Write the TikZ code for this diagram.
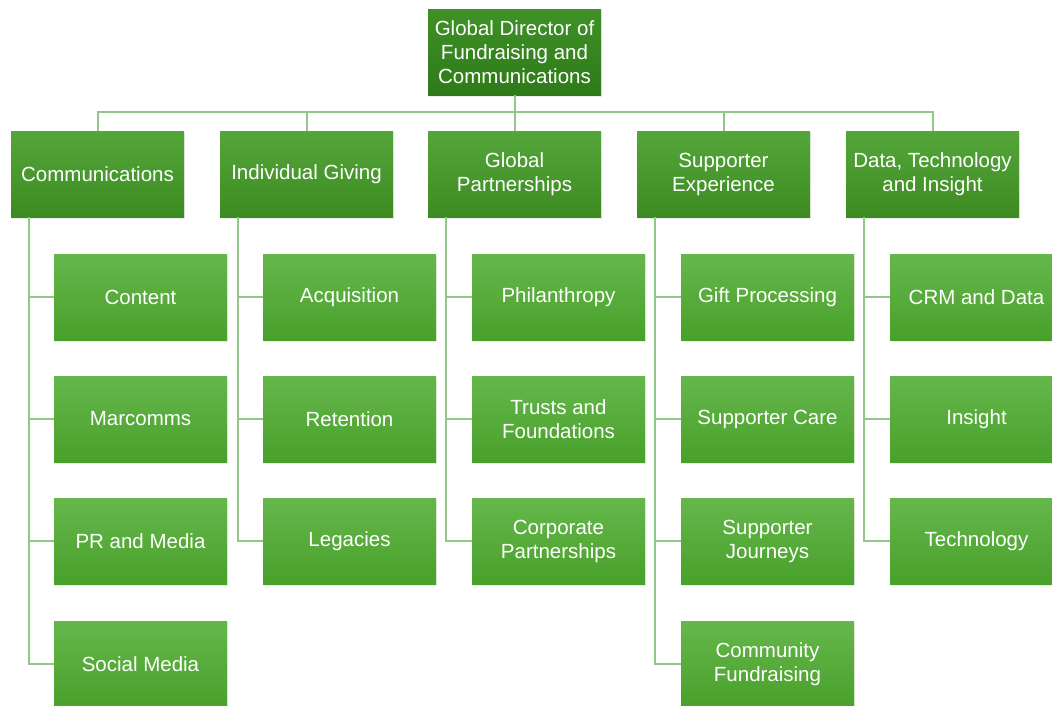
\documentclass[tikz,border=0pt]{standalone}
\usepackage{fontspec}
\setmainfont{Liberation Sans}
\usepackage{xcolor}
\usepackage{tikz}
\usetikzlibrary{positioning,shadows}

\definecolor{headtop}{HTML}{3F9127}
\definecolor{headbot}{HTML}{2E7A19}
\definecolor{deptop}{HTML}{55A63A}
\definecolor{depbot}{HTML}{3B8B21}
\definecolor{teamtop}{HTML}{65B74B}
\definecolor{teambot}{HTML}{49A02B}
\definecolor{linkgreen}{HTML}{93C68A}

\begin{document}
\begin{tikzpicture}[x=1pt,y=1pt,
  box/.style={draw=none, rectangle, minimum width=173pt, minimum height=86pt, inner sep=2pt,
    text=white, align=center, font=\fontsize{20.5}{24}\selectfont,
    drop shadow={shadow xshift=1pt, shadow yshift=-1.5pt, opacity=0.15, fill=black!50}},
  head/.style={box, top color=headtop, bottom color=headbot},
  dept/.style={box, top color=deptop, bottom color=depbot},
  team/.style={box, top color=teamtop, bottom color=teambot},
  link/.style={draw=linkgreen, line width=2pt}]
  \useasboundingbox (0,0) rectangle (1052,-705);

  \coordinate (bus) at (514.5,-112);

  \node[head] (top) at (514.5,-52) {Global Director of\\Fundraising and\\Communications};

  % departments
  \node[dept] (comm)   at (97.5,-174)  {Communications};
  \node[dept] (indiv)  at (306.5,-174) {Individual Giving};
  \node[dept] (global) at (514.5,-174) {Global\\Partnerships};
  \node[dept] (supp)   at (723.5,-174) {Supporter\\Experience};
  \node[dept] (data)   at (932.5,-174) {Data, Technology\\and Insight};

  % teams
  \node[team] (content)   at (140.5,-297) {Content};
  \node[team] (marcomms)  at (140.5,-419) {Marcomms};
  \node[team] (pr)        at (140.5,-541) {PR and Media};
  \node[team] (social)    at (140.5,-664) {Social Media};

  \node[team] (acq)       at (349.5,-297) {Acquisition};
  \node[team] (ret)       at (349.5,-419) {Retention};
  \node[team] (leg)       at (349.5,-541) {Legacies};

  \node[team] (phil)      at (558.5,-297) {Philanthropy};
  \node[team] (trusts)    at (558.5,-419) {Trusts and\\Foundations};
  \node[team] (corp)      at (558.5,-541) {Corporate\\Partnerships};

  \node[team] (gift)      at (767.5,-297) {Gift Processing};
  \node[team] (care)      at (767.5,-419) {Supporter Care};
  \node[team] (journeys)  at (767.5,-541) {Supporter\\Journeys};
  \node[team] (community) at (767.5,-664) {Community\\Fundraising};

  \node[team] (crm)       at (976.5,-297) {CRM and Data};
  \node[team] (insight)   at (976.5,-419) {Insight};
  \node[team] (tech)      at (976.5,-541) {Technology};

  \draw[link] (top.south) -- (bus);
  \draw[link] (comm.north) |- (bus);
  \draw[link] (indiv.north) |- (bus);
  \draw[link] (global.north) -- (bus);
  \draw[link] (supp.north) |- (bus);
  \draw[link] (data.north) |- (bus);

  \draw[link] ([xshift=18pt]comm.south west) |- (content.west);
  \draw[link] ([xshift=18pt]comm.south west) |- (marcomms.west);
  \draw[link] ([xshift=18pt]comm.south west) |- (pr.west);
  \draw[link] ([xshift=18pt]comm.south west) |- (social.west);

  \draw[link] ([xshift=18pt]indiv.south west) |- (acq.west);
  \draw[link] ([xshift=18pt]indiv.south west) |- (ret.west);
  \draw[link] ([xshift=18pt]indiv.south west) |- (leg.west);

  \draw[link] ([xshift=18pt]global.south west) |- (phil.west);
  \draw[link] ([xshift=18pt]global.south west) |- (trusts.west);
  \draw[link] ([xshift=18pt]global.south west) |- (corp.west);

  \draw[link] ([xshift=18pt]supp.south west) |- (gift.west);
  \draw[link] ([xshift=18pt]supp.south west) |- (care.west);
  \draw[link] ([xshift=18pt]supp.south west) |- (journeys.west);
  \draw[link] ([xshift=18pt]supp.south west) |- (community.west);

  \draw[link] ([xshift=18pt]data.south west) |- (crm.west);
  \draw[link] ([xshift=18pt]data.south west) |- (insight.west);
  \draw[link] ([xshift=18pt]data.south west) |- (tech.west);
\end{tikzpicture}
\end{document}
